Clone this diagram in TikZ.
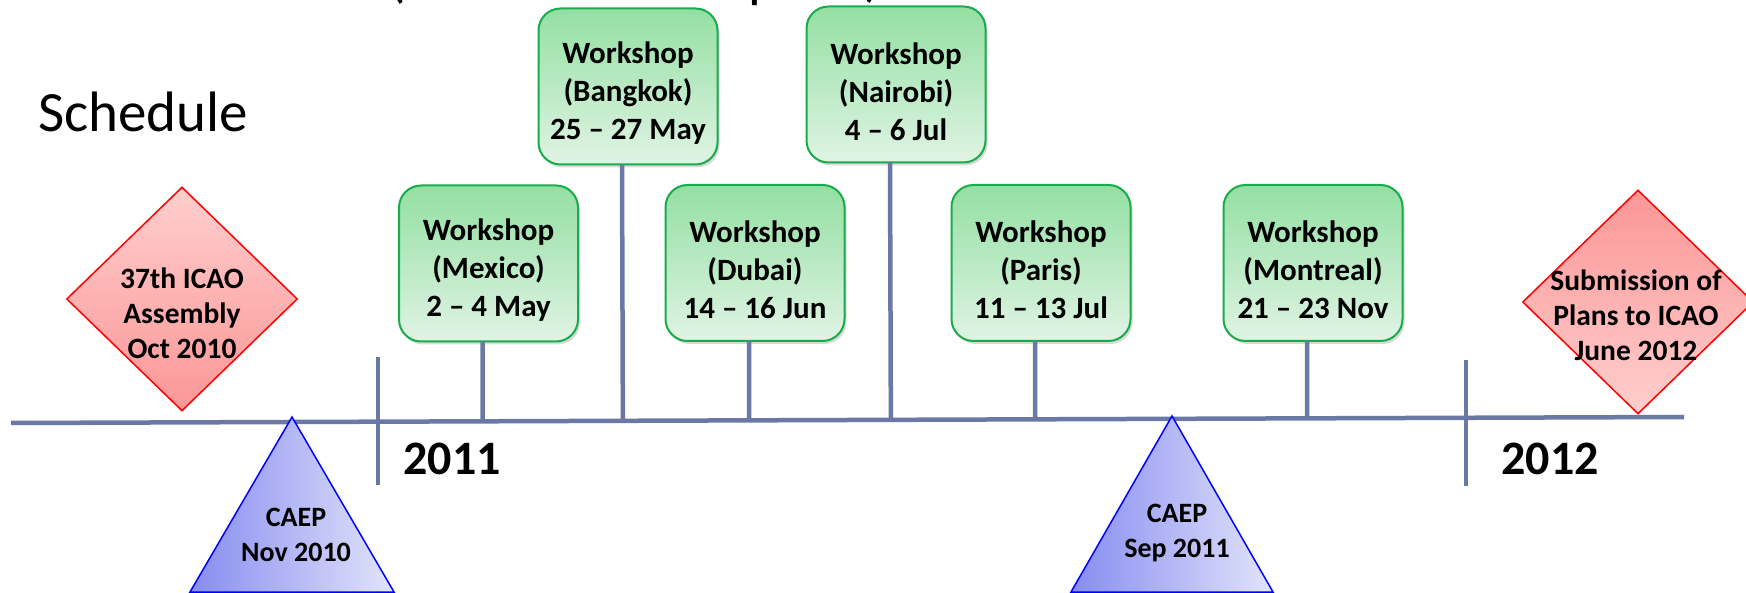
\documentclass[tikz,border=0pt]{standalone}
\usepackage{fontspec}
\setmainfont{Carlito}
\usetikzlibrary{shapes.geometric,shadows,calc}
\definecolor{tlc}{RGB}{106,120,165}
\definecolor{gtop}{RGB}{148,223,163}
\definecolor{gbot}{RGB}{224,244,228}
\definecolor{gdraw}{RGB}{24,172,76}
\definecolor{rlight}{RGB}{255,206,206}
\definecolor{rdark}{RGB}{252,150,150}
\definecolor{bdark}{RGB}{135,140,240}
\definecolor{blight}{RGB}{226,228,250}
\begin{document}
\begin{tikzpicture}[x=1pt,y=-1pt,
  wbox/.style={draw=gdraw, line width=2pt, rounded corners=22pt, minimum width=179pt, minimum height=156pt, inner sep=0pt, top color=gtop, bottom color=gbot, drop shadow={shadow xshift=2pt, shadow yshift=-3pt, opacity=0.3}},
  wtxt/.style={align=center, font=\fontsize{31}{38}\selectfont\bfseries, inner sep=0pt},
  stem/.style={draw=tlc, line width=4.5pt},
  dia/.style={diamond, draw=red, line width=1.5pt, minimum width=231pt, minimum height=224pt, inner sep=0pt},
  dtxt/.style={align=center, font=\fontsize{29.5}{35}\selectfont\bfseries, inner sep=0pt},
  ttxt/.style={align=center, font=\fontsize{28}{35}\selectfont\bfseries, inner sep=0pt},
  tri/.style={draw=blue, line width=1.5pt, left color=bdark, right color=blight},
  year/.style={font=\fontsize{48}{56}\selectfont\bfseries, inner sep=0pt, anchor=base},
  big/.style={font=\fontsize{57}{66}\selectfont, inner sep=0pt, anchor=base}
]
\useasboundingbox (0,0) rectangle (1746,593);

% title fragments cut by the top edge
\node[big] (f1) at (397,-3) {(};
\node[big] (f2) at (763,-3) {p};
\node[big] (f3) at (873,-4) {)};

\node[big, anchor=base west] (sched) at (38,132) {Schedule};

% timeline and year ticks
\coordinate (tlL) at (11,423);
\coordinate (tlR) at (1684,417);
\draw[stem] (tlL) -- (tlR);
\coordinate (t11a) at (378,357);
\coordinate (t11b) at (378,485);
\draw[stem] (t11a) -- (t11b);
\coordinate (t12a) at (1466,360);
\coordinate (t12b) at (1466,486);
\draw[stem] (t12a) -- (t12b);
\node[year] (y11) at (452,474) {2011};
\node[year] (y12) at (1550,474) {2012};

% workshop boxes
\node[wbox] (mex) at (488.5,263.5) {};
\node[wbox] (bkk) at (628,86.5) {};
\node[wbox] (dub) at (755,263) {};
\node[wbox] (nai) at (896,84.5) {};
\node[wbox] (par) at (1041,263) {};
\node[wbox] (mtl) at (1313,263) {};

\foreach \b in {mex,bkk,dub,nai,par,mtl}{
  \draw[stem] ([xshift=-6pt,yshift=1pt]\b.south) -- ($(tlL)!([xshift=-6pt]\b.south)!(tlR)$);
}

\node[wtxt] (mext) at (488.5,270.5) {Workshop\\(Mexico)\\2 -- 4 May};
\node[wtxt] (bkkt) at (628,93.5) {Workshop\\(Bangkok)\\25 -- 27 May};
\node[wtxt] (dubt) at (755,270) {Workshop\\(Dubai)\\14 -- 16 Jun};
\node[wtxt] (nait) at (896,91.5) {Workshop\\(Nairobi)\\4 -- 6 Jul};
\node[wtxt] (part) at (1041,270) {Workshop\\(Paris)\\11 -- 13 Jul};
\node[wtxt] (mtlt) at (1313,270) {Workshop\\(Montreal)\\21 -- 23 Nov};

% diamonds
\node[dia, top color=rlight, bottom color=rdark] (asm) at (182,299) {};
\node[dtxt] (asmt) at (182,313) {37th ICAO\\Assembly\\Oct 2010};
\node[dia, top color=rdark, bottom color=rlight] (sub) at (1638,302) {};
\node[dtxt] (subt) at (1636,315) {Submission of\\Plans to ICAO\\June 2012};

% triangles
\coordinate (caA) at (292,417);
\coordinate (caL) at (190,592);
\coordinate (caR) at (394,592);
\path[tri] (caA) -- (caR) -- (caL) -- cycle;
\node[ttxt] (cat) at (296,535) {CAEP\\Nov 2010};
\coordinate (cbA) at (1172,416);
\coordinate (cbL) at (1071,592);
\coordinate (cbR) at (1273,592);
\path[tri] (cbA) -- (cbR) -- (cbL) -- cycle;
\node[ttxt] (cbt) at (1177,533) {CAEP\\Sep 2011};
\end{tikzpicture}
\end{document}
